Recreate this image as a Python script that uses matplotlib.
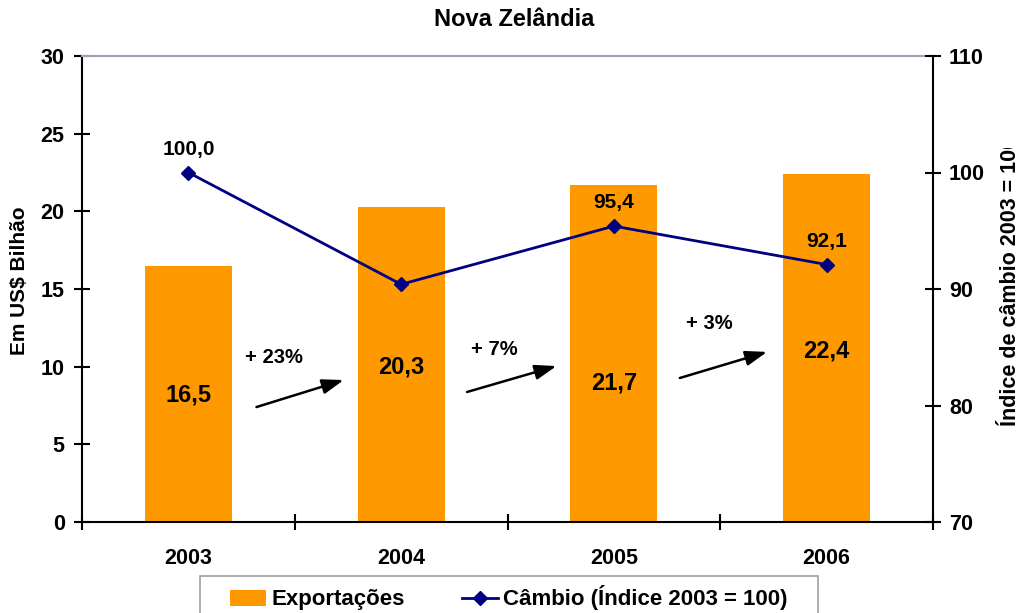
import matplotlib
matplotlib.use("Agg")
import matplotlib.pyplot as plt
from matplotlib.transforms import Bbox
from matplotlib.patches import Rectangle
import numpy as np

plt.rcParams['font.family'] = ['Liberation Sans', 'DejaVu Sans']
plt.rcParams['font.weight'] = 'bold'

years = ['2003', '2004', '2005', '2006']
exports = [16.5, 20.3, 21.7, 22.4]
exports_labels = ['16,5', '20,3', '21,7', '22,4']
cambio = [100.0, 90.4, 95.4, 92.1]
cambio_labels = ['100,0', '', '95,4', '92,1']
growth_labels = ['+ 23%', '+ 7%', '+ 3%']

fig = plt.figure(figsize=(10.27, 6.13), dpi=100)
ax = fig.add_axes([82/1027, 1-522/613, (933-82)/1027, (522-56)/613])
x = np.arange(len(years))

ax.bar(x, exports, width=0.41, color='#FF9900', label='Exportações', zorder=2)
ax.set_xlim(-0.5, 3.5)
ax.set_ylim(0, 30)
ax.set_yticks(range(0, 31, 5))
ax.set_xticks(x)
ax.set_xticklabels(years, fontsize=15.5, fontweight='bold')
ax.set_xticks(np.arange(-0.5, 3.6, 1), minor=True)
ax.tick_params(axis='x', which='major', length=0, pad=19)
ax.tick_params(axis='x', which='minor', length=11, direction='inout', width=1.5)
ax.tick_params(axis='y', length=11, direction='inout', width=1.5, labelsize=15.5, pad=7)
for lab in ax.get_yticklabels():
    lab.set_fontweight('bold')
for s in ['left', 'bottom']:
    ax.spines[s].set_linewidth(1.5)
    ax.spines[s].set_color('black')
ax.spines['top'].set_color('#A0A0B0')
ax.spines['top'].set_linewidth(1.5)
ax.spines['right'].set_visible(False)
ax.set_ylabel('Em US$ Bilhão', fontsize=15, fontweight='bold')
ax.yaxis.set_label_coords((29-82)/851, (522-281)/466)

# bar value labels
bar_label_y = [8.2, 10.0, 8.95, 11.0]
for i, (lab, yy) in enumerate(zip(exports_labels, bar_label_y)):
    ax.text(x[i], yy, lab, ha='center', va='center', fontsize=17, fontweight='bold', zorder=5)

ax2 = ax.twinx()
ax2.set_ylim(70, 110)
ax2.set_yticks(range(70, 111, 10))
ax2.plot(x, cambio, color='#000080', lw=2, marker='D', markersize=7,
         label='Câmbio (Índice 2003 = 100)', zorder=4)
ax2.tick_params(axis='y', length=11, direction='inout', width=1.5, labelsize=15.5, pad=6)
for lab in ax2.get_yticklabels():
    lab.set_fontweight('bold')
for s in ['left', 'top', 'bottom']:
    ax2.spines[s].set_visible(False)
ax2.spines['right'].set_linewidth(1.5)
ax2.spines['right'].set_color('black')

for i, lab in enumerate(cambio_labels):
    if lab:
        ax2.annotate(lab, (x[i], cambio[i]), xytext=(0, 10), textcoords='offset points',
                     ha='center', va='bottom', fontsize=15, fontweight='bold')

# growth arrows
arrow_from = [(0.32, 7.4), (1.31, 8.37), (2.31, 9.27)]
arrow_to = [(0.73, 9.14), (1.73, 10.04), (2.72, 10.95)]
label_pos = [(0.40, 10.6), (1.44, 11.1), (2.45, 12.8)]
for (x0, y0), (x1, y1), (lx, ly), g in zip(arrow_from, arrow_to, label_pos, growth_labels):
    ax.annotate('', xy=(x1, y1), xytext=(x0, y0),
                arrowprops=dict(arrowstyle='-|>,head_length=1.3,head_width=0.45', color='black',
                                lw=1.8, shrinkA=0, shrinkB=0), zorder=6)
    ax.text(lx, ly, g, ha='center', va='center', fontsize=14.5, fontweight='bold', zorder=6)

# right label, clipped as in the reference
t = fig.text(1011/1027, 1-281/613, 'Índice de câmbio 2003 = 100', rotation=90,
             ha='center', va='center', fontsize=15.5, fontweight='bold')
t.set_clip_box(Bbox.from_extents(990, 0, 1027, 613-148))
t.set_clip_on(True)

fig.suptitle('Nova Zelândia', x=514/1027, y=1-19/613, va='center', fontsize=17, fontweight='bold')

# legend box drawn by hand (frame wider than matplotlib's uniform padding allows)
fig.patches.append(Rectangle((200/1027, 1-616/613), 618/1027, 40/613, transform=fig.transFigure,
                             facecolor='white', edgecolor='#A0A0A0', lw=1.2, zorder=0))
h1, l1 = ax.get_legend_handles_labels()
h2, l2 = ax2.get_legend_handles_labels()
leg = fig.legend(h1 + h2, l1 + l2, loc='center left', bbox_to_anchor=(230/1027, 1-598/613),
                 ncol=2, frameon=False, borderpad=0, borderaxespad=0,
                 columnspacing=2.6, handlelength=1.6, handletextpad=0.25,
                 prop={'weight': 'bold', 'size': 16})

fig.savefig('out.png', dpi=100)
